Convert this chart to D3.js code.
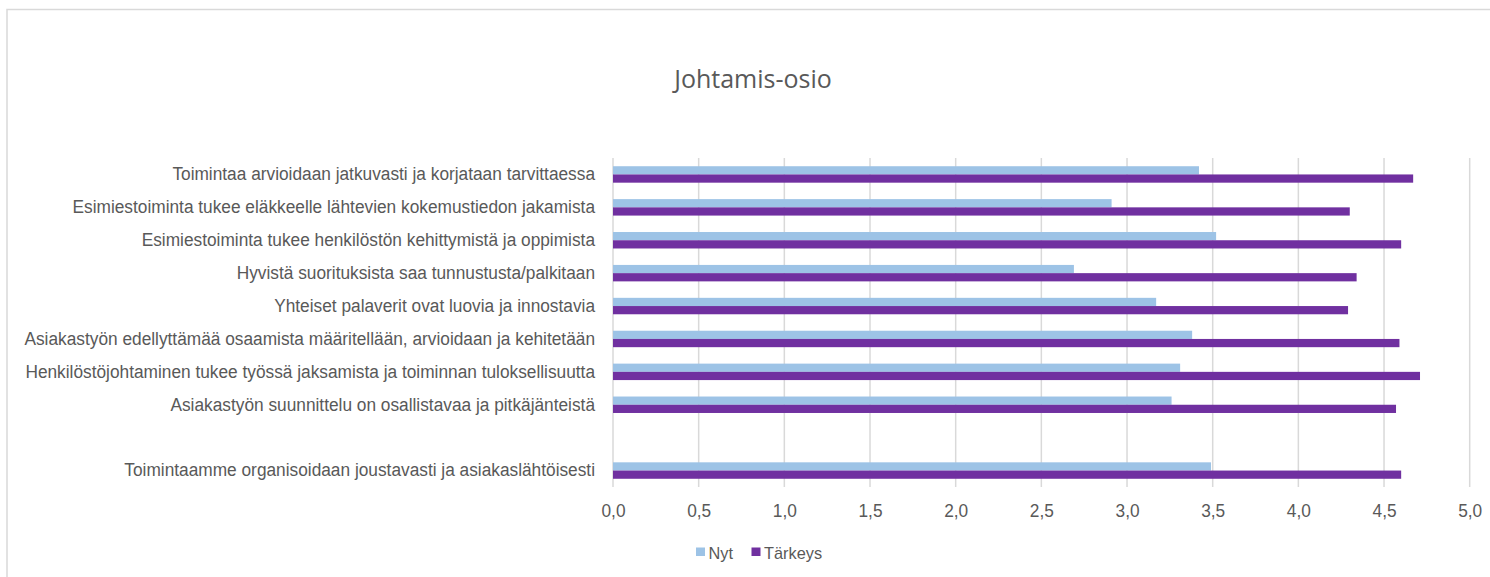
<!DOCTYPE html>
<html lang="fi">
  <head>
    <meta charset="utf-8">
    <title>Johtamis-osio</title>
    <style>
      body { margin: 0; background: #fff; }
      svg { display: block; }
    </style>
  </head>
  <body>
    <div id="chart"></div>
  </body>
  <script src="https://cdnjs.cloudflare.com/ajax/libs/d3/7.8.5/d3.min.js"></script>
  <script type="text/javascript">

    // categories from top to bottom (one empty slot between the last two)
    const categories = [
      'Toimintaa arvioidaan jatkuvasti ja korjataan tarvittaessa',
      'Esimiestoiminta tukee eläkkeelle lähtevien kokemustiedon jakamista',
      'Esimiestoiminta tukee henkilöstön kehittymistä ja oppimista',
      'Hyvistä suorituksista saa tunnustusta/palkitaan',
      'Yhteiset palaverit ovat luovia ja innostavia',
      'Asiakastyön edellyttämää osaamista määritellään, arvioidaan ja kehitetään',
      'Henkilöstöjohtaminen tukee työssä jaksamista ja toiminnan tuloksellisuutta',
      'Asiakastyön suunnittelu on osallistavaa ja pitkäjänteistä',
      '',
      'Toimintaamme organisoidaan joustavasti ja asiakaslähtöisesti'
    ]
    const nyt = [3.42, 2.91, 3.52, 2.69, 3.17, 3.38, 3.31, 3.26, null, 3.49]
    const tarkeys = [4.67, 4.30, 4.60, 4.34, 4.29, 4.59, 4.71, 4.57, null, 4.60]
    const seriesNames = ['Nyt', 'Tärkeys']
    const seriesColors = ['#9dc3e6', '#7030a0']
    const xTicks = [0, 0.5, 1, 1.5, 2, 2.5, 3, 3.5, 4, 4.5, 5]
    const title = 'Johtamis-osio'

    const width = 1490
    const height = 577
    const margin = { top: 158, right: 20, bottom: 90, left: 613 }
    const fontFamily = '"Liberation Sans", Arial, sans-serif'
    const textColor = '#595959'
    // the original face is a little narrower than Arial
    const narrowFactor = 0.96

    const svg = d3.select('#chart')
      .append('svg')
      .attr('width', width)
      .attr('height', height)

    // chart frame
    svg.append('rect')
      .attr('x', 7)
      .attr('y', 9.5)
      .attr('width', width)
      .attr('height', height)
      .attr('fill', 'none')
      .attr('stroke', '#d9d9d9')
      .attr('stroke-width', 1.5)

    svg.append('text')
      .attr('x', 753)
      .attr('y', 88)
      .attr('text-anchor', 'middle')
      .style('font-family', '"Open Sans", sans-serif')
      .style('font-size', '25px')
      .style('fill', textColor)
      .text(title)

    const x = d3.scaleLinear()
      .domain([0, 5])
      .range([margin.left, 1469.7])

    const y = d3.scaleBand()
      .domain(categories.map((d, i) => i))
      .range([margin.top, 487])
      .padding(0)

    const ySub = d3.scaleBand()
      .domain(seriesNames)
      .range([y.bandwidth() * 0.25, y.bandwidth() * 0.75])

    // gridlines
    svg.append('g')
      .selectAll('line')
      .data(xTicks)
      .join('line')
      .attr('x1', d => x(d))
      .attr('x2', d => x(d))
      .attr('y1', y.range()[0])
      .attr('y2', y.range()[1])
      .attr('stroke', '#d9d9d9')
      .attr('stroke-width', 1.5)

    // x axis labels
    const xAxis = svg.append('g')
      .attr('transform', `translate(0, ${y.range()[1]})`)
      .call(d3.axisBottom(x).tickValues(xTicks).tickSize(0).tickPadding(17)
        .tickFormat(d => d3.format('.1f')(d).replace('.', ',')))
    xAxis.select('.domain').remove()
    xAxis.selectAll('text')
      .style('font-family', fontFamily)
      .style('font-size', '18px')
      .style('fill', textColor)
      .call(narrow)

    // category labels
    const yAxis = svg.append('g')
      .attr('transform', `translate(${margin.left}, 0)`)
      .call(d3.axisLeft(y).tickSize(0).tickPadding(18).tickFormat(i => categories[i]))
    yAxis.select('.domain').remove()
    yAxis.selectAll('text')
      .style('font-family', fontFamily)
      .style('font-size', '18px')
      .style('fill', textColor)
      .call(narrow)

    // bars
    const rows = categories.map((c, i) => ({ i, values: [nyt[i], tarkeys[i]] }))
      .filter(d => d.values[0] !== null)

    const groups = svg.append('g')
      .selectAll('g')
      .data(rows)
      .join('g')
      .attr('transform', d => `translate(0, ${y(d.i)})`)

    groups.selectAll('rect')
      .data(d => d.values.map((v, k) => ({ key: seriesNames[k], value: v, k })))
      .join('rect')
      .attr('x', x(0))
      .attr('y', d => ySub(d.key))
      .attr('width', d => x(d.value) - x(0))
      .attr('height', ySub.bandwidth())
      .attr('fill', d => seriesColors[d.k])

    // legend
    const legendX = [696, 751.5]
    const legend = svg.append('g')
      .selectAll('g')
      .data(seriesNames)
      .join('g')
      .attr('transform', (d, i) => `translate(${legendX[i]}, 547.5)`)

    legend.append('rect')
      .attr('width', 9)
      .attr('height', 8.5)
      .attr('fill', (d, i) => seriesColors[i])

    legend.append('text')
      .attr('x', 12.5)
      .attr('y', 11.5)
      .style('font-family', fontFamily)
      .style('font-size', '17px')
      .style('fill', textColor)
      .text(d => d)
      .call(narrow)

    //Helper functions
    function narrow(sel) {
      sel.each(function () {
        const len = this.getComputedTextLength()
        if (len > 0) {
          d3.select(this)
            .attr('textLength', len * narrowFactor)
            .attr('lengthAdjust', 'spacingAndGlyphs')
        }
      })
    }

  </script>
</html>
